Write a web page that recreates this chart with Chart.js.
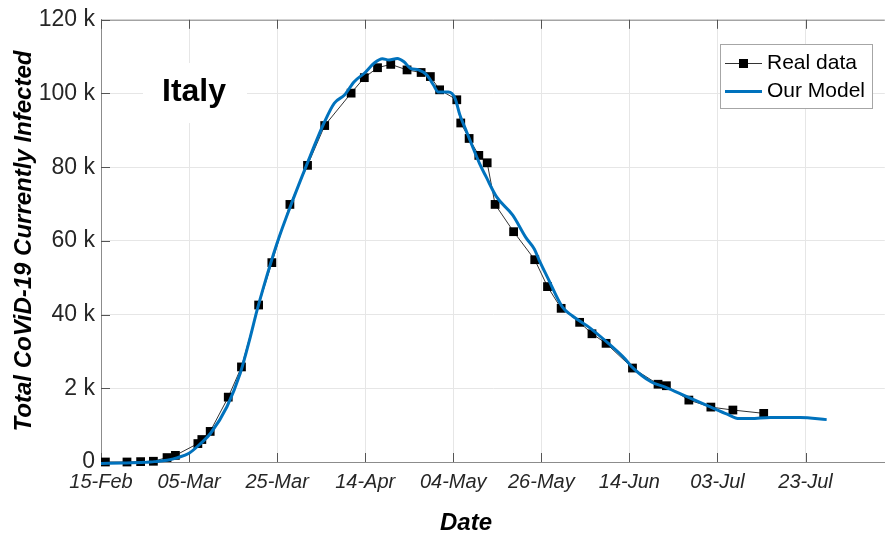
<!DOCTYPE html>
<html>
<head>
<meta charset="utf-8">
<title>Italy - CoViD-19 currently infected</title>
<script src="https://cdn.jsdelivr.net/npm/chart.js@4.4.0/dist/chart.umd.min.js"></script>
<style>
  html, body { margin: 0; padding: 0; background: #fff; }
  canvas { display: block; }
</style>
</head>
<body>
<canvas id="chart" width="891" height="537"></canvas>
<script>
// x is days since 15-Feb
var xTickDays = [0, 20, 40, 60, 80, 100, 120, 140, 160];
var xTickLabels = ['15-Feb', '05-Mar', '25-Mar', '14-Apr', '04-May', '26-May', '14-Jun', '03-Jul', '23-Jul'];
var yTickValues = [0, 20000, 40000, 60000, 80000, 100000, 120000];
var yTickLabels = ['0', '2 k', '40 k', '60 k', '80 k', '100 k', '120 k'];

var realDays = [1.0, 5.9, 9.0, 11.9, 15.0, 16.9, 22.0, 22.9, 24.8, 28.9, 31.9, 35.8, 38.8, 42.9, 46.9,
  50.8, 56.8, 59.8, 62.8, 65.8, 69.5, 72.7, 74.8, 76.9, 80.8, 81.7, 83.6, 85.8, 87.7, 89.5,
  93.7, 98.5, 101.4, 104.5, 108.7, 111.5, 114.7, 120.7, 126.5, 128.4, 133.5, 138.5, 143.5, 150.5];
var realInfected = [0, 0, 100, 200, 1200, 1800, 5000, 6100, 8300, 17600, 25800, 42600, 54100, 69900, 80500,
  91300, 100100, 104300, 107000, 107900, 106400, 105700, 104600, 101000, 98300, 92000, 87800, 83200, 81200, 69900,
  62500, 54900, 47600, 41700, 37900, 34800, 32200, 25500, 21100, 20700, 16800, 14900, 14100, 13200];

var modelDays = [0, 5, 10, 12.1, 15, 17.4, 20, 22.6, 24.9, 28.6, 31.6, 33.9, 35.4, 36.9, 39.9, 43.6, 46.6,
  50.8, 53, 55.3, 57.5, 59.8, 62, 63.9, 65.4, 67.3, 68.8, 70.3, 72.1, 74, 75.5, 76.6, 78.9, 80.4,
  81.5, 83, 84.5, 86, 87.5, 89.8, 93.5, 96.5, 98.4, 99.5, 101.4, 104.8, 107, 110.8, 115.3, 119,
  120.5, 125, 128, 133.3, 138.5, 142.2, 144.9, 147.5, 152, 158.8, 164.8];
var modelInfected = [-400, -300, -100, 100, 500, 1200, 2400, 5000, 7800, 15000, 24000, 33900, 41000, 47400, 59100, 71200, 80300,
  92400, 97400, 99600, 103200, 105500, 108200, 109400, 109100, 109500, 108600, 106800, 106400, 105000, 102300, 100400, 100400, 98700,
  94200, 89700, 85200, 80900, 77300, 72000, 67000, 60900, 57800, 54800, 50100, 42000, 39700, 36600, 32100, 28000,
  25900, 21700, 20400, 17600, 14900, 13000, 11800, 11800, 12100, 12100, 11500];

var FONT = '"Liberation Sans", Arial, Helvetica, sans-serif';
var BLUE = '#0072BD';

function pairs(xs, ys) {
  return xs.map(function (x, i) { return { x: x, y: ys[i] }; });
}

var decor = {
  id: 'decor',
  beforeDatasetsDraw: function (chart) {
    var ctx = chart.ctx, a = chart.chartArea, xs = chart.scales.x, ys = chart.scales.y;
    ctx.save();
    // white background behind the country label
    ctx.fillStyle = '#fff';
    ctx.fillRect(143, 63, 104, 60);
    // top frame line
    ctx.strokeStyle = '#8c8c8c';
    ctx.lineWidth = 1;
    ctx.beginPath();
    ctx.moveTo(a.left, a.top + 0.5);
    ctx.lineTo(a.right, a.top + 0.5);
    ctx.stroke();
    // inward tick marks
    ctx.strokeStyle = '#555';
    ctx.beginPath();
    xTickDays.forEach(function (d) {
      var px = Math.round(xs.getPixelForValue(d)) + 0.5;
      ctx.moveTo(px, a.bottom); ctx.lineTo(px, a.bottom - 9);
      ctx.moveTo(px, a.top); ctx.lineTo(px, a.top + 9);
    });
    yTickValues.forEach(function (v) {
      var py = Math.round(ys.getPixelForValue(v)) + 0.5;
      ctx.moveTo(a.left, py); ctx.lineTo(a.left + 9, py);
    });
    ctx.stroke();
    ctx.restore();
  },
  afterDraw: function (chart) {
    var ctx = chart.ctx;
    ctx.save();
    ctx.fillStyle = '#000';
    // country label
    ctx.font = 'bold 32px ' + FONT;
    ctx.textAlign = 'center';
    ctx.textBaseline = 'alphabetic';
    ctx.fillText('Italy', 194, 101);
    // axis titles
    ctx.font = 'italic bold 24px ' + FONT;
    ctx.textBaseline = 'middle';
    ctx.fillText('Date', 466, 523);
    ctx.save();
    ctx.translate(24, 241);
    ctx.rotate(-Math.PI / 2);
    ctx.fillText('Total CoViD-19 Currently Infected', 0, 0);
    ctx.restore();
    // legend
    ctx.fillStyle = '#fff';
    ctx.fillRect(720, 44, 152, 64);
    ctx.strokeStyle = '#a6a6a6';
    ctx.lineWidth = 1;
    ctx.strokeRect(720.5, 44.5, 152, 64);
    ctx.strokeStyle = '#333';
    ctx.beginPath(); ctx.moveTo(725, 63.5); ctx.lineTo(762, 63.5); ctx.stroke();
    ctx.fillStyle = '#000';
    ctx.fillRect(739, 59, 9, 9);
    ctx.strokeStyle = BLUE;
    ctx.lineWidth = 3;
    ctx.beginPath(); ctx.moveTo(725, 91.5); ctx.lineTo(762, 91.5); ctx.stroke();
    ctx.fillStyle = '#000';
    ctx.font = '21px ' + FONT;
    ctx.textAlign = 'left';
    ctx.fillText('Real data', 767, 63);
    ctx.fillText('Our Model', 767, 91);
    ctx.restore();
  }
};

var ctx = document.getElementById('chart').getContext('2d');
var chart = new Chart(ctx, {
  type: 'scatter',
  data: {
    datasets: [{
      label: 'Our Model',
      data: pairs(modelDays, modelInfected),
      showLine: true,
      borderColor: BLUE,
      borderWidth: 3,
      pointRadius: 0,
      cubicInterpolationMode: 'monotone',
      clip: false
    }, {
      label: 'Real data',
      data: pairs(realDays, realInfected),
      showLine: true,
      borderColor: '#333',
      borderWidth: 1,
      pointStyle: 'rect',
      pointRadius: 6.2,
      pointBackgroundColor: '#000',
      pointBorderColor: '#000',
      pointBorderWidth: 0,
      tension: 0,
      clip: false
    }]
  },
  options: {
    responsive: false,
    animation: false,
    devicePixelRatio: 1,
    layout: { padding: { top: 18, right: 1, left: 0, bottom: 0 } },
    plugins: { legend: { display: false }, tooltip: { enabled: false } },
    scales: {
      x: {
        type: 'linear',
        min: 0,
        max: 178,
        afterFit: function (s) { s.height = 75; },
        afterBuildTicks: function (s) { s.ticks = xTickDays.map(function (d) { return { value: d }; }); },
        grid: { color: '#e6e6e6', drawTicks: false },
        border: { color: '#8c8c8c', width: 1 },
        ticks: {
          padding: 8,
          maxRotation: 0,
          autoSkip: false,
          color: '#262626',
          font: { family: FONT, size: 20, style: 'italic' },
          callback: function (v, i) { return xTickLabels[i]; }
        }
      },
      y: {
        min: 0,
        max: 120000,
        afterFit: function (s) { s.width = 101; },
        afterBuildTicks: function (s) { s.ticks = yTickValues.map(function (v) { return { value: v }; }); },
        grid: { color: '#e6e6e6', drawTicks: false },
        border: { color: '#8c8c8c', width: 1 },
        ticks: {
          padding: 6,
          autoSkip: false,
          color: '#262626',
          font: { family: FONT, size: 23 },
          callback: function (v, i) { return yTickLabels[i]; }
        }
      }
    }
  },
  plugins: [decor]
});
</script>
</body>
</html>
